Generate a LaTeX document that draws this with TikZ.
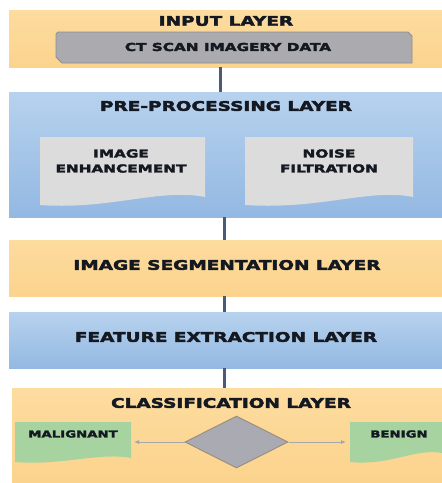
\documentclass[tikz,border=0pt]{standalone}
\usepackage{fontspec}
\newfontfamily\wide{DejaVu Sans}[FakeStretch=1.4,FakeBold=3.2]
\usetikzlibrary{shapes.geometric,arrows.meta}
\definecolor{orA}{HTML}{FDDC9F}
\definecolor{orB}{HTML}{FBD38D}
\definecolor{blA}{HTML}{B7D2EE}
\definecolor{blB}{HTML}{93B8E2}
\definecolor{grayBox}{HTML}{ABABAF}
\definecolor{grayEdge}{HTML}{8E8E92}
\definecolor{lightBox}{HTML}{DCDCDC}
\definecolor{greenBox}{HTML}{A6D3A0}
\definecolor{link}{HTML}{4A5A78}
\definecolor{txt}{HTML}{141821}
\definecolor{diaFill}{HTML}{A9AAB2}
\definecolor{diaEdge}{HTML}{9A8F86}
\begin{document}
\begin{tikzpicture}[x=1pt,y=-1pt,
  band/.style={draw=none,inner sep=0pt,anchor=north west,minimum width=433pt},
  oband/.style={band,top color=orA,bottom color=orB},
  bband/.style={band,top color=blA,bottom color=blB},
  title/.style={font=\wide\bfseries\fontsize{13.2}{15}\selectfont,text=txt,inner sep=0pt},
  sub/.style={font=\wide\bfseries\fontsize{10.9}{13}\selectfont,text=txt,inner sep=0pt,align=center},
  small/.style={font=\wide\bfseries\fontsize{9.5}{11}\selectfont,text=txt,inner sep=0pt},
  link/.style={draw=link,line width=3pt},
  sidearrow/.style={draw=gray!70,line width=0.8pt,-{Latex[length=5pt,width=4pt]}}]
\useasboundingbox (0,0) rectangle (442,483);
\fill[white] (0,0) rectangle (442,483);

% layers
\node[oband,minimum height=57pt] (input) at (9,10) {};
\node[bband,minimum height=125pt] (pre) at (9,92) {};
\node[oband,minimum height=56pt] (seg) at (9,240) {};
\node[bband,minimum height=56pt] (feat) at (9,312) {};
\node[oband,minimum height=95pt] (cls) at (12,388) {};

% connectors
\draw[link] (220,67) -- (220,92);
\draw[link] (224,217) -- (224,240);
\draw[link] (224,296) -- (224,312);
\draw[link] (224,368) -- (224,388);

% input layer
\node[title] (tin) at (226,21) {INPUT LAYER};
\filldraw[fill=grayBox,draw=grayEdge,line width=0.8pt]
  (58,32) -- (408,32) -- (412,36) -- (412,63) -- (62,63) -- (56,57) -- (56,34) -- cycle;
\node[sub] (ct) at (228,47) {CT SCAN IMAGERY DATA};

% pre-processing layer
\node[title] (tpre) at (226,106) {PRE-PROCESSING LAYER};
\fill[lightBox] (40,137) -- (205,137) -- (205,197)
  .. controls (160,188) and (110,210) .. (40,205) -- cycle;
\fill[lightBox] (245,137) -- (413,137) -- (413,197)
  .. controls (370,188) and (320,210) .. (245,205) -- cycle;
\node[sub] (enh) at (121,161) {IMAGE\\[2pt]ENHANCEMENT};
\node[sub] (noise) at (329,161) {NOISE\\[2pt]FILTRATION};

% segmentation & feature
\node[title] (tseg) at (227,265) {IMAGE SEGMENTATION LAYER};
\node[title] (tfeat) at (226,337) {FEATURE EXTRACTION LAYER};

% classification layer
\node[title] (tcls) at (231,403) {CLASSIFICATION LAYER};
\node[diamond,draw=diaEdge,fill=diaFill,line width=1pt,
  minimum width=103pt,minimum height=52pt,inner sep=0pt] (dec) at (236.5,442) {};
\fill[greenBox] (15,422) -- (131,422) -- (131,458)
  .. controls (100,452) and (60,466) .. (15,462) -- cycle;
\fill[greenBox] (350,422) -- (442,422) -- (442,453)
  .. controls (415,448) and (390,466) .. (350,462) -- cycle;
\node[small] (tmal) at (73,434) {MALIGNANT};
\node[small] (tben) at (399,434) {BENIGN};
\draw[sidearrow] (dec.west) -- (134,442);
\draw[sidearrow] (dec.east) -- (346,442);
\end{tikzpicture}
\end{document}
